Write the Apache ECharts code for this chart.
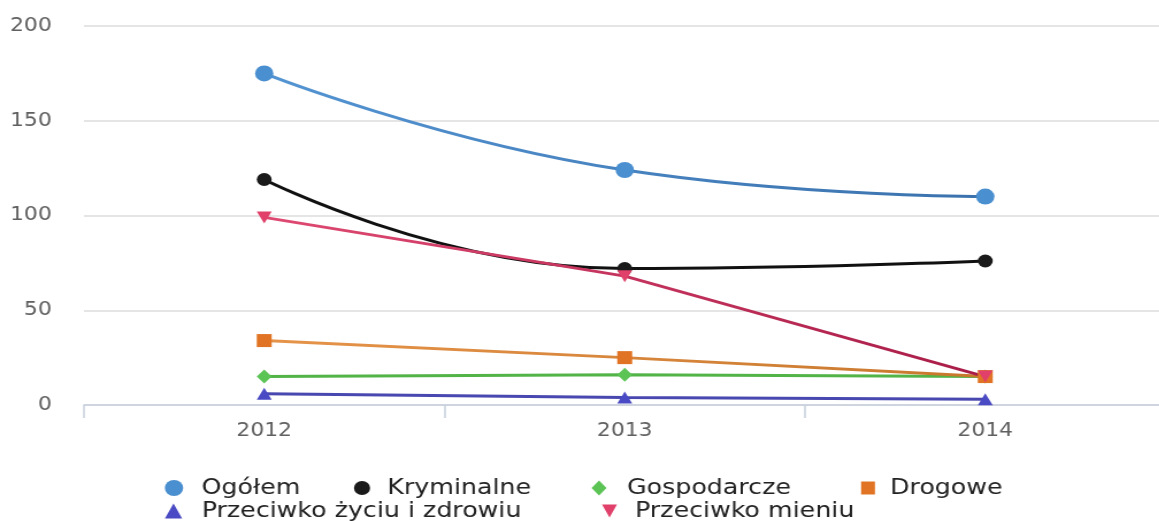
<!DOCTYPE html>
<html>
<head>
<meta charset="utf-8">
<script src="https://cdn.jsdelivr.net/npm/echarts@6/dist/echarts.min.js"></script>
<style>
html,body{margin:0;padding:0;background:#fff;overflow:hidden;width:1159px;height:521px;}
#main{width:1020px;height:521px;transform:scaleX(1.15);transform-origin:0 0;}
</style>
</head>
<body>
<div id="main"></div>
<script>
const years = ['2012', '2013', '2014'];
const yTicks = [0, 50, 100, 150, 200];
const ogolem = [175, 124, 110];
const kryminalne = [119, 72, 76];
const gospodarcze = [15, 16, 15];
const drogowe = [34, 25, 15];
const zycie = [6, 4, 3];
const mienie = [99, 68, 15];

const FONT = 'DejaVu Sans';
const chart = echarts.init(document.getElementById('main'), null, {renderer: 'canvas'});

function mkLegend(name, icon, w, h, left, top, extra) {
  return {
    data: [{name: name, icon: icon}],
    left: left, top: top, padding: 0,
    itemWidth: w, itemHeight: h,
    selectedMode: false,
    textStyle: {fontFamily: FONT, fontSize: 22, color: '#222', padding: [0, 0, 0, extra]}
  };
}
function grad(c1, c2) {
  return new echarts.graphic.LinearGradient(0, 0, 1, 0, [
    {offset: 0, color: c1}, {offset: 1, color: c2}
  ]);
}

const option = {
  animation: false,
  backgroundColor: '#fff',
  grid: {left: 73, right: 6.5, top: 26, bottom: 116, containLabel: false},
  legend: [
    mkLegend('Ogółem', 'circle', 16, 16, 143.3, 477, 11),
    mkLegend('Kryminalne', 'circle', 14, 14, 307.8, 477, 10),
    mkLegend('Gospodarcze', 'diamond', 13, 15, 514.4, 477, 12.8),
    mkLegend('Drogowe', 'rect', 12, 13, 748.8, 477, 8.1),
    mkLegend('Przeciwko życiu i zdrowiu', 'triangle', 15, 15, 143.4, 500, 12),
    mkLegend('Przeciwko mieniu', 'path://M0,0 L10,0 L5,10 Z', 13, 14, 523.5, 500, 10.7)
  ],
  xAxis: {
    type: 'category',
    data: years,
    boundaryGap: true,
    axisLine: {lineStyle: {color: '#c8d0dc', width: 1.5}},
    axisTick: {show: true, length: 13, lineStyle: {color: '#c8d0dc', width: 1.5}},
    axisLabel: {fontFamily: FONT, fontSize: 19, color: '#606060', margin: 17},
    splitLine: {show: false}
  },
  yAxis: {
    type: 'value',
    min: yTicks[0], max: yTicks[yTicks.length - 1], interval: 50,
    axisLine: {show: false},
    axisTick: {show: false},
    axisLabel: {fontFamily: FONT, fontSize: 19, color: '#606060', margin: 28},
    splitLine: {lineStyle: {color: '#dcdcdc', width: 1.5}}
  },
  series: [
    {name: 'Ogółem', type: 'line', data: ogolem, smooth: 0.5,
     symbol: 'circle', symbolSize: 16,
     lineStyle: {color: grad('#5394d2', '#3b72ad'), width: 3},
     itemStyle: {color: '#4a8fd0'}},
    {name: 'Kryminalne', type: 'line', data: kryminalne, smooth: 0.5,
     symbol: 'circle', symbolSize: 13,
     lineStyle: {color: '#111', width: 3},
     itemStyle: {color: '#1a1a1a'}},
    {name: 'Gospodarcze', type: 'line', data: gospodarcze,
     symbol: 'diamond', symbolSize: [13, 14],
     lineStyle: {color: '#52b347', width: 3},
     itemStyle: {color: '#5cc455'}},
    {name: 'Drogowe', type: 'line', data: drogowe,
     symbol: 'rect', symbolSize: 13,
     lineStyle: {color: grad('#e6944a', '#c8782c'), width: 3},
     itemStyle: {color: '#e07424'}},
    {name: 'Przeciwko życiu i zdrowiu', type: 'line', data: zycie,
     symbol: 'triangle', symbolSize: [13, 12],
     lineStyle: {color: '#4848b0', width: 3},
     itemStyle: {color: '#4a4ac4'}},
    {name: 'Przeciwko mieniu', type: 'line', data: mienie,
     symbol: 'path://M0,0 L10,0 L5,10 Z', symbolSize: [13, 12],
     lineStyle: {color: grad('#e04a72', '#a81c48'), width: 3},
     itemStyle: {color: '#e0406a'}}
  ]
};
chart.setOption(option);
</script>
</body>
</html>
